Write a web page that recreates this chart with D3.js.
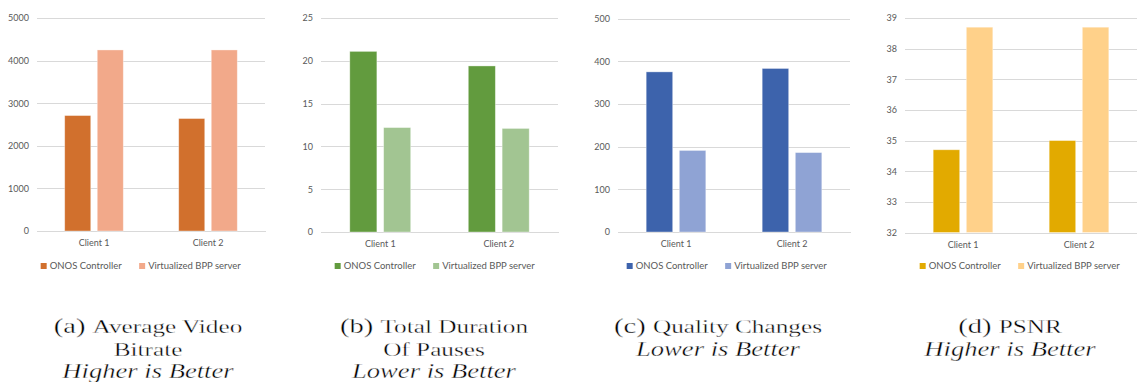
<!DOCTYPE html>
<html>
<head>
<meta charset="utf-8">
<script src="https://cdn.jsdelivr.net/npm/d3@7"></script>
<style>
  html, body { margin: 0; padding: 0; background: #fff; }
  svg { display: block; }
</style>
</head>
<body>
<svg id="fig" width="1137" height="382"></svg>
<script>
// ---- data ----
const categories = ["Client 1", "Client 2"];
const seriesNames = ["ONOS Controller", "Virtualized BPP server"];

const bitrateOnos = [2710, 2640];
const bitrateVirt = [4250, 4250];
const bitrateTicks = [0, 1000, 2000, 3000, 4000, 5000];

const pausesOnos = [21.1, 19.4];
const pausesVirt = [12.2, 12.1];
const pausesTicks = [0, 5, 10, 15, 20, 25];

const qualityOnos = [375, 383];
const qualityVirt = [191, 186];
const qualityTicks = [0, 100, 200, 300, 400, 500];

const psnrOnos = [34.7, 35.0];
const psnrVirt = [38.7, 38.7];
const psnrTicks = [32, 33, 34, 35, 36, 37, 38, 39];

const captionLabels = ["(a)", "(b)", "(c)", "(d)"];
const captionTitles = [["Average Video", "Bitrate"], ["Total Duration", "Of Pauses"], ["Quality Changes"], ["PSNR"]];
const captionNotes = ["Higher is Better", "Lower is Better", "Lower is Better", "Higher is Better"];

// ---- per-panel layout and colours ----
const panels = [
  { onos: bitrateOnos, virt: bitrateVirt, ticks: bitrateTicks,
    left: 37, right: 265, top: 18, bottom: 231, legendCx: 141, captionCx: 148,
    colors: ["#d1702d", "#f2a98a"] },
  { onos: pausesOnos, virt: pausesVirt, ticks: pausesTicks,
    left: 321, right: 558, top: 18, bottom: 232, legendCx: 435, captionCx: 434,
    colors: ["#629b3e", "#a2c592"] },
  { onos: qualityOnos, virt: qualityVirt, ticks: qualityTicks,
    left: 618, right: 850, top: 18.5, bottom: 232, legendCx: 727, captionCx: 718,
    colors: ["#3d63ac", "#8fa3d4"] },
  { onos: psnrOnos, virt: psnrVirt, ticks: psnrTicks,
    left: 905, right: 1137, top: 18, bottom: 232.5, legendCx: 1020, captionCx: 1010,
    colors: ["#e2aa00", "#ffd18a"] }
];

const svg = d3.select("#fig");
const sansFont = "Lato, 'Open Sans', sans-serif";
const textGray = "#595959";
const gridGray = "#d9d9d9";

panels.forEach((p, i) => {
  const g = svg.append("g");
  const values = [p.onos, p.virt];

  const y = d3.scaleLinear()
    .domain([p.ticks[0], p.ticks[p.ticks.length - 1]])
    .range([p.bottom, p.top]);

  const x0 = d3.scaleBand().domain(categories).range([p.left, p.right]).padding(0);
  const bw = x0.bandwidth();
  const x1 = d3.scaleBand().domain(seriesNames)
    .range([bw * 0.243, bw * 0.757]).paddingInner(0.2).paddingOuter(0);

  // horizontal gridlines + tick labels
  const yAxis = d3.axisLeft(y).tickValues(p.ticks)
    .tickSize(-(p.right - p.left)).tickPadding(8).tickFormat(d3.format("d"));
  const ax = g.append("g").attr("transform", `translate(${p.left},0)`).call(yAxis);
  ax.select(".domain").remove();
  ax.selectAll(".tick line").attr("stroke", gridGray).attr("stroke-width", 1)
    .attr("shape-rendering", "crispEdges");
  ax.selectAll(".tick text").attr("fill", textGray)
    .style("font-family", sansFont).style("font-size", "9px");

  // category labels
  const xAxis = d3.axisBottom(x0).tickSize(0).tickPadding(9);
  const axx = g.append("g").attr("transform", `translate(0,${p.bottom})`).call(xAxis);
  axx.select(".domain").attr("stroke", gridGray).attr("shape-rendering", "crispEdges");
  axx.selectAll(".tick text").attr("fill", textGray)
    .style("font-family", sansFont).style("font-size", "9px");

  // bars
  seriesNames.forEach((s, si) => {
    g.append("g").selectAll("rect")
      .data(categories.map((c, ci) => ({ c, v: values[si][ci] })))
      .join("rect")
      .attr("x", d => x0(d.c) + x1(s))
      .attr("width", x1.bandwidth())
      .attr("y", d => y(d.v))
      .attr("height", d => y(y.domain()[0]) - y(d.v))
      .attr("fill", p.colors[si])
      .attr("stroke", "#ffffff").attr("stroke-opacity", 0.45).attr("stroke-width", 0.8);
  });

  // legend
  const leg = g.append("g").attr("transform", `translate(0,266)`);
  const items = leg.selectAll("g").data(seriesNames).join("g");
  items.append("rect").attr("width", 6).attr("height", 6).attr("y", -3)
    .attr("fill", (d, k) => p.colors[k]);
  items.append("text").attr("x", 9).attr("dy", "0.35em")
    .attr("fill", textGray)
    .style("font-family", sansFont).style("font-size", "9.5px")
    .text(d => d);
  const widths = [];
  items.each(function () { widths.push(this.getBBox().width); });
  const total = widths[0] + widths[1] + 17;
  items.attr("transform", (d, k) => {
    const xx = p.legendCx - total / 2 + (k === 0 ? 0 : widths[0] + 17);
    return `translate(${xx},0)`;
  });

  // caption (thin white outline keeps the stretched serif strokes light)
  const cap = svg.append("g").attr("transform", `translate(${p.captionCx},0)`);
  const lines = [];
  captionTitles[i].forEach((t, li) => lines.push({ label: li === 0 ? captionLabels[i] : null, text: t, italic: false }));
  lines.push({ label: null, text: captionNotes[i], italic: true });
  lines.forEach((ln, li) => {
    const t = cap.append("text")
      .attr("transform", `translate(0,${333 + li * 22.5}) scale(1.33,1)`)
      .attr("text-anchor", "middle")
      .attr("fill", "#000")
      .attr("stroke", "#fff").attr("stroke-width", 0.35)
      .style("font-family", "'Liberation Serif', 'Times New Roman', serif")
      .style("font-size", ln.italic ? "20px" : "19px")
      .style("font-style", ln.italic ? "italic" : "normal");
    if (ln.label) {
      t.append("tspan").style("font-size", "21.5px").text(ln.label + " ");
    }
    t.append("tspan").text(ln.text);
  });
});
</script>
</body>
</html>
